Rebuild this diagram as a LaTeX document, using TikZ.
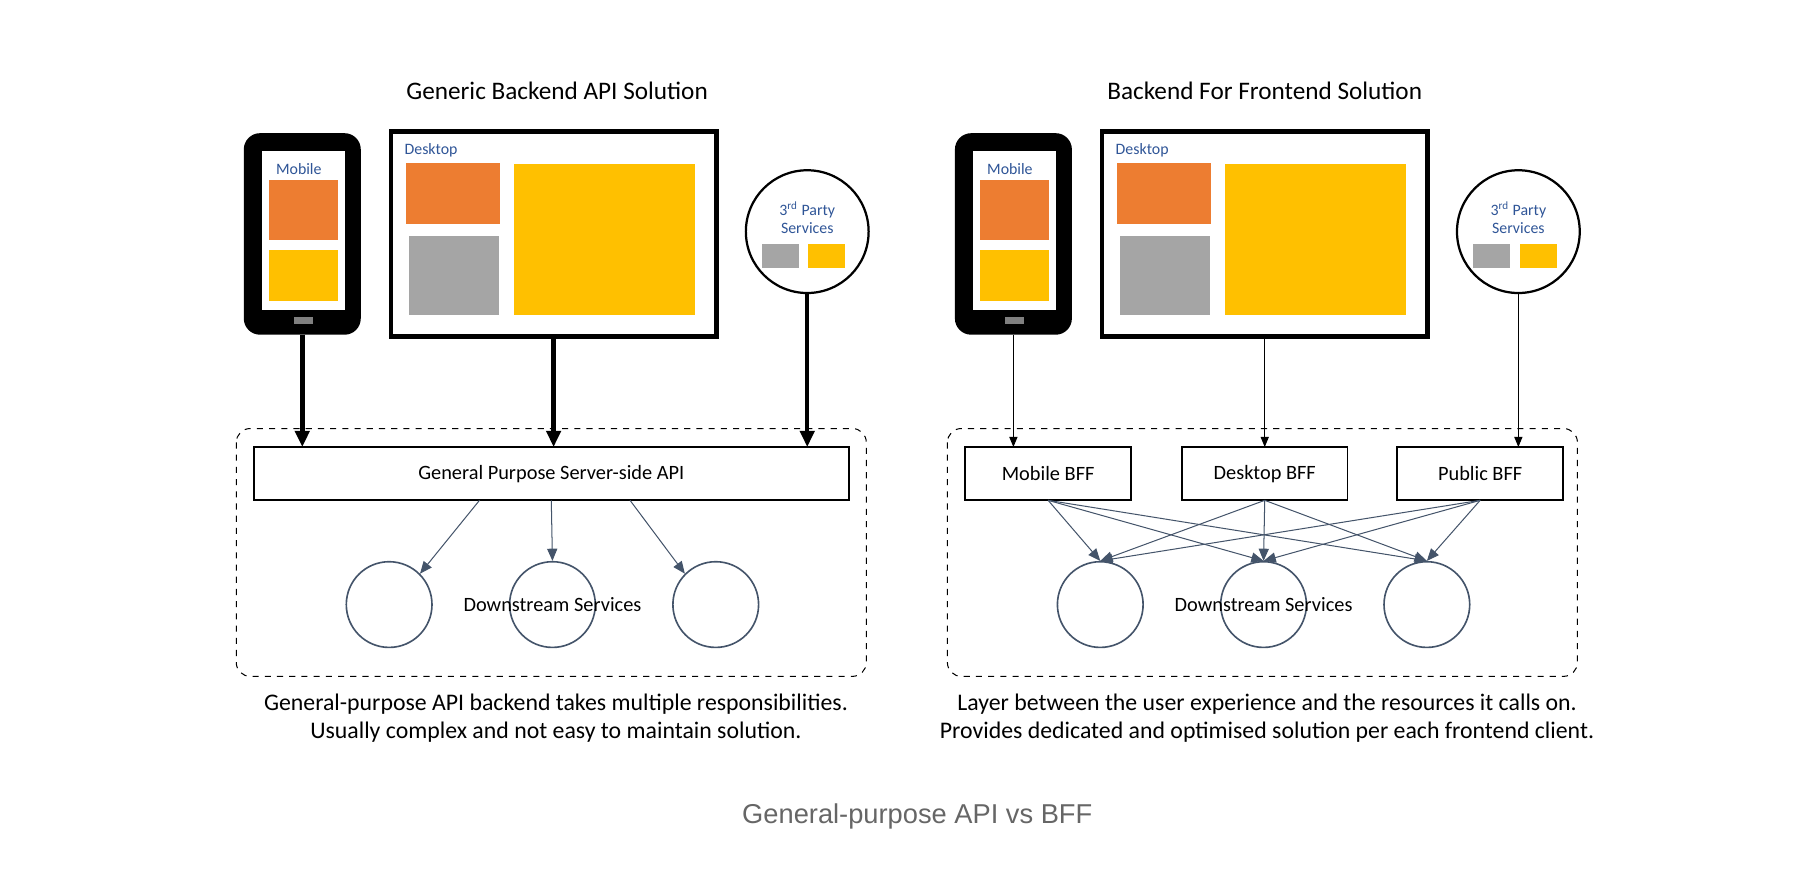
\documentclass[tikz,border=0pt]{standalone}
\usepackage{fontspec}
\setmainfont{Carlito}
\newfontfamily\capfont{Liberation Sans}
\usepackage{tikz}
\usetikzlibrary{arrows.meta}
\usetikzlibrary{positioning}
\usetikzlibrary{calc}
\definecolor{uiblue}{HTML}{2F5597}
\definecolor{uiorange}{HTML}{ED7D31}
\definecolor{uiyellow}{HTML}{FFC000}
\definecolor{uigray}{HTML}{A5A5A5}
\definecolor{slate}{HTML}{44546A}
\def\px{0.02cm}

\begin{document}
\begin{tikzpicture}[
  x=\px, y=-\px,
  blk/.style 2 args={
    rectangle,
    minimum width=#1*\px,
    minimum height=#2*\px,
    inner sep=0pt, outer sep=0pt},
  tile/.style={fill=#1, draw=none},
  lbl/.style={text=uiblue, font=\fontsize{7.8}{9.2}\selectfont, inner sep=0pt},
  box/.style={draw, line width=0.9pt, font=\fontsize{10}{12}\selectfont},
  svc/.style={circle, draw=slate, line width=0.8pt, minimum size=74*\px, inner sep=0pt},
  fat/.style={-{Triangle[length=8pt,width=7pt]}, line width=2.2pt},
  thin/.style={-{Triangle[length=5pt,width=4pt]}, line width=0.5pt},
  fan/.style={-{Triangle[length=6pt,width=5pt]}, draw=slate, line width=0.5pt},
  ttl/.style={font=\fontsize{12.4}{14}\selectfont},
  note/.style={font=\fontsize{11.7}{14}\selectfont, align=center},
]
  \useasboundingbox (0,0) rectangle (1568,757);

  % the two panels share the same clients
  \foreach \side/\off in {L/0,R/614} {
    \begin{scope}[xshift=\off*\px]
    % Mobile
    \node[blk={101}{174}, fill=black, rounded corners=14*\px] (mob\side) at (261,202) {};
    \node[blk={72}{138}, fill=white] (scr\side) at (262,199) {};
    \node[lbl] at (258,146) {Mobile};
    \node[blk={60}{52}, tile=uiorange] at (262,181) {};
    \node[blk={60}{44}, tile=uiyellow] at (262,238) {};
    \node[blk={16}{6}, tile=gray] at (262,277) {};
    % Desktop
    \node[blk={281}{177}, draw, line width=2.3pt] (dsk\side) at (478,202) {};
    \node[lbl, anchor=west] at (349,130) {Desktop};
    \node[blk={81}{52}, tile=uiorange] at (391,167) {};
    \node[blk={78}{68}, tile=uigray] at (392,238) {};
    \node[blk={156}{130}, tile=uiyellow] at (522,207) {};
    % 3rd party
    \node[circle, draw, line width=1.1pt, minimum size=106*\px, inner sep=0pt] (pub\side) at (697,200) {};
    \node[lbl, align=center] at (697,188) {3\textsuperscript{rd} Party\\Services};
    \node[blk={32}{20}, tile=uigray] at (674,221) {};
    \node[blk={32}{20}, tile=uiyellow] at (714,221) {};
    % server side
    \draw[dashed, line width=0.5pt, rounded corners=12*\px] (204,370) rectangle (748,584);
    \node[svc] (ds1\side) at (336,522) {};
    \node[svc] (ds2\side) at (477,522) {};
    \node[svc] (ds3\side) at (618,522) {};
    \node[font=\fontsize{10}{12}\selectfont] at (477,522) {Downstream Services};
    \end{scope}
  }

  % Generic backend
  \node[ttl] at (481,78) {Generic Backend API Solution};
  \node[box, blk={514}{46}] (api) at (476,409) {General Purpose Server-side API};
  \draw[fat] (mobL.south) -- (mobL.south |- api.north);
  \draw[fat] (dskL.south) -- (dskL.south |- api.north);
  \draw[fat] (pubL.south) -- (pubL.south |- api.north);
  \draw[fan] ($(api.south)+(-62,0)$) -- (ds1L.north east);
  \draw[fan] (api.south) -- (ds2L.north);
  \draw[fan] ($(api.south)+(68,0)$) -- (ds3L.north west);
  \node[note] at (480,620) {General-purpose API backend takes multiple responsibilities.\\Usually complex and not easy to maintain solution.};

  % Backend for frontend
  \node[ttl] at (1092,78) {Backend For Frontend Solution};
  \node[box, blk={143}{46}] (mbff) at (905,409) {Mobile BFF};
  \node[box, blk={143}{46}] (dbff) at (1092,409) {Desktop BFF};
  \node[box, blk={143}{46}] (pbff) at (1278,409) {Public BFF};
  \draw[thin] (mobR.south) -- (mobR.south |- mbff.north);
  \draw[thin] (dskR.south) -- (dskR.south |- dbff.north);
  \draw[thin] (pubR.south) -- (pubR.south |- pbff.north);
  \foreach \b in {mbff,dbff,pbff}
    \foreach \d in {ds1R,ds2R,ds3R}
      \draw[fan] (\b.south) -- (\d.north);
  \node[note] at (1094,620) {Layer between the user experience and the resources it calls on.\\Provides dedicated and optimised solution per each frontend client.};

  \node[font=\capfont\fontsize{13.4}{15}\selectfont, text=black!60] (fig) at (792,705) {General-purpose API vs BFF};
\end{tikzpicture}
\end{document}
